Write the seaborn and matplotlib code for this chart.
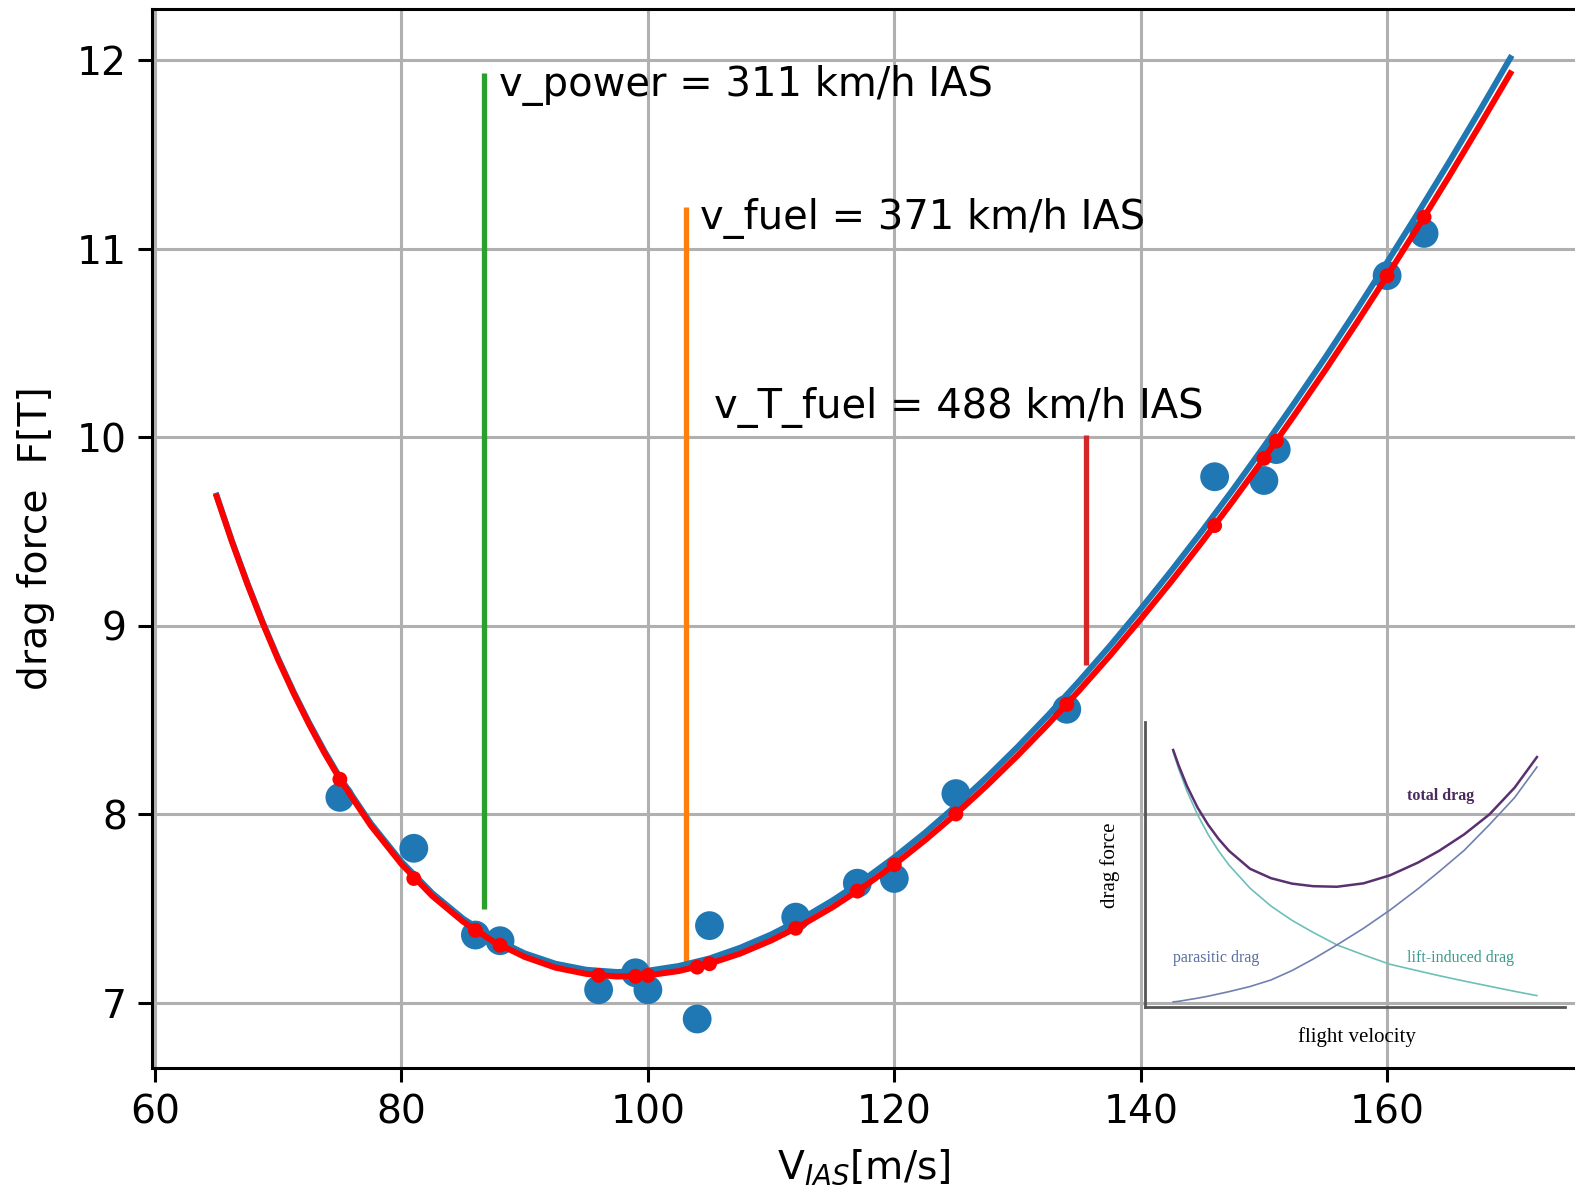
import numpy as np
import pandas as pd
import matplotlib
matplotlib.use("Agg")
import matplotlib.pyplot as plt
import seaborn as sns

# measured drag points (V_IAS in m/s, F in T)
v_meas = [75, 81, 86, 88, 96, 99, 100, 104, 105, 112, 117, 120, 125, 134, 146, 150, 151, 160, 163]
F_meas = [8.09, 7.82, 7.36, 7.33, 7.07, 7.16, 7.07, 6.915, 7.41, 7.455, 7.635, 7.66, 8.11, 8.557,
          9.79, 9.77, 9.934, 10.856, 11.08]
# model values at the measured speeds (red dots)
F_model_pts = [8.186, 7.66, 7.385, 7.306, 7.146, 7.141, 7.146, 7.19, 7.208, 7.396, 7.593, 7.733,
               8.002, 8.583, 9.531, 9.887, 9.979, 10.855, 11.166]

# fitted curves
v_curve = [65, 66.25, 67.5, 68.75, 70, 71.25, 72.5, 73.75, 75, 77.5, 80, 82.5, 85, 87.5, 90,
           92.5, 95, 97.5, 100, 102.5, 105, 107.5, 110, 112.5, 115, 117.5, 120, 122.5, 125,
           127.5, 130, 132.5, 135, 137.5, 140, 142.5, 145, 147.5, 150, 152.5, 155, 157.5, 160,
           162.5, 165, 167.5, 170]
F_red = [9.685, 9.443, 9.219, 9.011, 8.818, 8.641, 8.477, 8.325, 8.186, 7.941, 7.736, 7.567,
         7.431, 7.324, 7.244, 7.187, 7.154, 7.140, 7.146, 7.169, 7.208, 7.262, 7.331, 7.413,
         7.508, 7.615, 7.733, 7.863, 8.002, 8.152, 8.311, 8.479, 8.656, 8.841, 9.035, 9.236,
         9.446, 9.663, 9.887, 10.119, 10.357, 10.603, 10.855, 11.114, 11.379, 11.651, 11.929]
F_blue = [9.690, 9.448, 9.225, 9.017, 8.826, 8.649, 8.486, 8.335, 8.196, 7.953, 7.749, 7.582,
          7.447, 7.342, 7.263, 7.208, 7.176, 7.164, 7.171, 7.196, 7.236, 7.293, 7.363, 7.447,
          7.544, 7.652, 7.772, 7.903, 8.045, 8.196, 8.357, 8.527, 8.706, 8.893, 9.089, 9.293,
          9.504, 9.723, 9.950, 10.184, 10.424, 10.672, 10.927, 11.188, 11.455, 11.729, 12.010]

# characteristic speeds: (x, y_low, y_high, colour, label x, label y, text)
v_power = 86.7
v_fuel = 103.06
v_T_fuel = 135.56
lines = [
    (v_power, 7.50, 11.93, "#2ca02c", 87.9, 11.81, "v_power = 311 km/h IAS"),
    (v_fuel, 7.17, 11.22, "#ff7f0e", 104.2, 11.105, "v_fuel = 371 km/h IAS"),
    (v_T_fuel, 8.79, 10.01, "#d62728", 105.35, 10.10, "v_T_fuel = 488 km/h IAS"),
]

# schematic inset (normalised units)
ins_u = [0.067, 0.08, 0.10, 0.125, 0.15, 0.175, 0.20, 0.25, 0.30, 0.35, 0.40, 0.457, 0.52,
         0.583, 0.65, 0.70, 0.76, 0.82, 0.88, 0.933]
ins_induced = [0.895, 0.836, 0.757, 0.675, 0.606, 0.548, 0.498, 0.417, 0.354, 0.304, 0.262,
               0.218, 0.183, 0.150, 0.127, 0.110, 0.091, 0.073, 0.055, 0.040]
ins_parasitic = [0.018, 0.020, 0.025, 0.031, 0.038, 0.046, 0.054, 0.072, 0.095, 0.128, 0.168,
                 0.218, 0.276, 0.340, 0.415, 0.475, 0.550, 0.640, 0.735, 0.842]
ins_total = [0.902, 0.848, 0.775, 0.700, 0.640, 0.590, 0.548, 0.485, 0.452, 0.433, 0.424,
             0.422, 0.434, 0.462, 0.507, 0.548, 0.606, 0.676, 0.770, 0.877]

plt.rcParams['font.family'] = ['DejaVu Sans']
fs = 28.3
fs_note = 28.8

fig = plt.figure(figsize=(15.75, 11.96), dpi=100)
ax = fig.add_axes([0.0965, 0.107, 0.9035, 0.8855])

ax.grid(True, color="#b0b0b0", linewidth=2.2, zorder=0)
ax.set_axisbelow(True)

for x, y0, y1, c, tx, ty, txt in lines:
    ax.vlines(x, y0, y1, color=c, linewidth=3.8, zorder=2)
    ax.text(tx, ty, txt, fontsize=fs_note, zorder=5)

sns.scatterplot(x=v_meas, y=F_meas, ax=ax, s=430, color="#1f77b4", edgecolor="none",
                linewidth=0, zorder=3)
sns.lineplot(x=v_curve, y=F_blue, ax=ax, color="#1f77b4", linewidth=4.3, zorder=4)
sns.lineplot(x=v_curve, y=F_red, ax=ax, color="red", linewidth=4.3, zorder=4)
sns.scatterplot(x=v_meas, y=F_model_pts, ax=ax, s=115, color="red", edgecolor="none",
                linewidth=0, zorder=4)

ax.set_xlim(59.75, 175.25)
ax.set_ylim(6.655, 12.27)
ax.set_xticks([60, 80, 100, 120, 140, 160])
ax.set_yticks([7, 8, 9, 10, 11, 12])
ax.tick_params(labelsize=fs, length=10, width=2.2, pad=8)
for side in ["left", "bottom", "top"]:
    ax.spines[side].set_linewidth(2.2)
ax.spines["right"].set_visible(False)
ax.set_xlabel("V$_{IAS}$[m/s]", fontsize=fs, labelpad=12)
ax.set_ylabel("drag force  F[T]", fontsize=fs, labelpad=16)

# inset schematic
ins = fig.add_axes([0.727, 0.158, 0.2667, 0.2383])
ins.patch.set_alpha(0)
ins.plot(ins_u, ins_induced, color="#6cc0b8", linewidth=1.2)
ins.plot(ins_u, ins_parasitic, color="#7080b0", linewidth=1.2)
ins.plot(ins_u, ins_total, color="#5a3070", linewidth=1.8)
ins.set_xlim(0, 1)
ins.set_ylim(0, 1)
ins.set_xticks([])
ins.set_yticks([])
for side in ["top", "right"]:
    ins.spines[side].set_visible(False)
for side in ["left", "bottom"]:
    ins.spines[side].set_color("#555555")
    ins.spines[side].set_linewidth(2)
serif = "Liberation Serif"
ins.text(0.624, 0.74, "total drag", transform=ins.transAxes, family=serif, fontsize=11.5,
         fontweight="bold", color="#4b2a5e", va="center")
ins.text(0.067, 0.172, "parasitic drag", transform=ins.transAxes, family=serif,
         fontsize=11.5, color="#5a6ea0", va="center")
ins.text(0.624, 0.172, "lift-induced drag", transform=ins.transAxes, family=serif,
         fontsize=11.5, color="#3a9a8e", va="center")
ins.text(-0.083, 0.498, "drag force", transform=ins.transAxes, family=serif, fontsize=15,
         rotation=90, ha="center", va="center")
ins.text(0.505, -0.105, "flight velocity", transform=ins.transAxes, family=serif,
         fontsize=15, ha="center", va="center")

fig.savefig("out.png", dpi=100)
